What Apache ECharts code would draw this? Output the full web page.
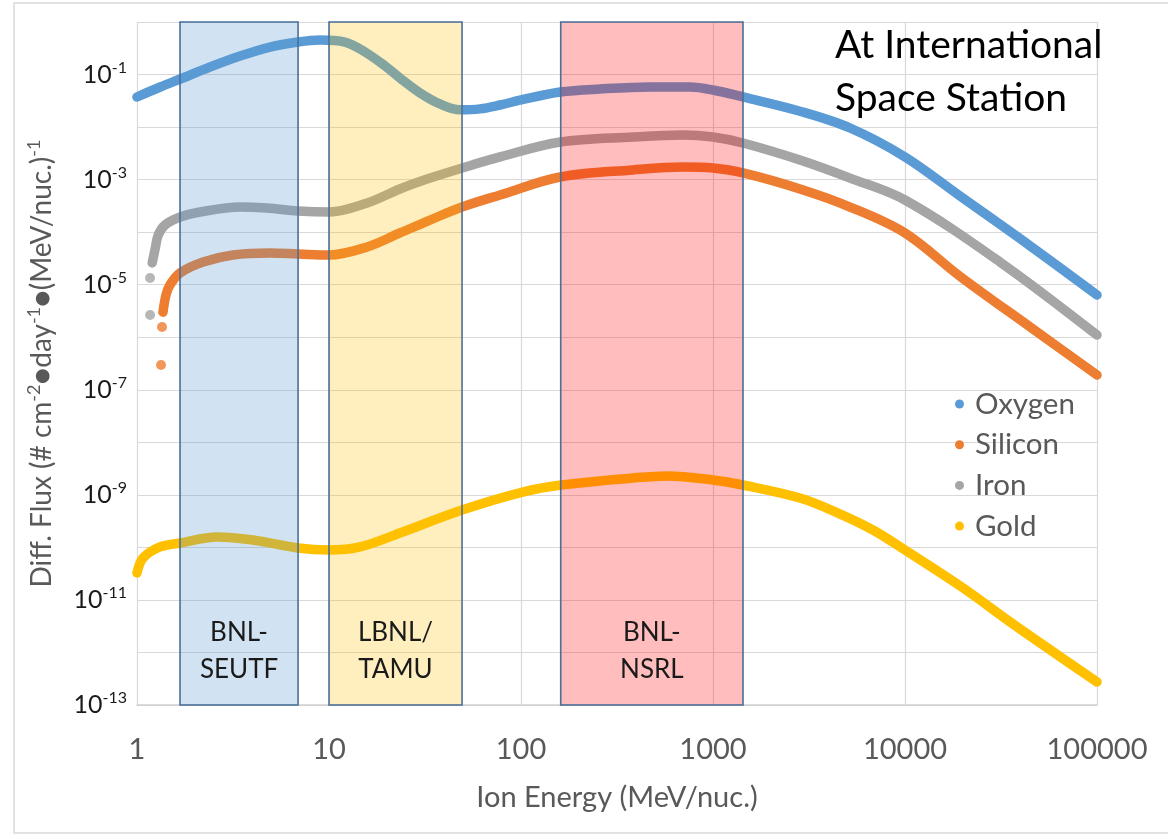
<!DOCTYPE html>
<html>
<head>
<meta charset="utf-8">
<script src="https://cdn.jsdelivr.net/npm/echarts@6/dist/echarts.min.js"></script>
<style>
html,body{margin:0;padding:0;background:#fff;}
#chart{width:1168px;height:835px;}
</style>
</head>
<body>
<div id="chart"></div>
<script>
// ---- data (energy MeV/nuc., differential flux) ----
const seriesNames = ['Oxygen', 'Silicon', 'Iron', 'Gold'];
const seriesColors = ['#5b9bd5', '#ed7d31', '#a5a5a5', '#ffc000'];

const oxygen = [[1,0.0374],[1.32,0.0579],[1.68,0.0822],[2.4,0.139],[3.44,0.225],[4.93,0.334],[6.9,0.416],[8.97,0.454],[12.1,0.416],[15.4,0.269],[19.6,0.1455],[23.4,0.0859],[29.8,0.0445],[37.8,0.0275],[48.1,0.0213],[61.1,0.0222],[77.8,0.0263],[100,0.0328],[160,0.0465],[258,0.0531],[470,0.0579],[759,0.0579],[1000,0.0508],[1433,0.0374],[2838,0.02],[5174,0.0096],[10000,0.0027],[19300,4.9e-4],[44800,5.5e-5],[100000,6.37e-6]];

const silicon = [[1.366,3.0e-6],[1.416,6.4e-6],[1.485,9.9e-6],[1.675,1.67e-5],[2.21,2.7e-5],[3.16,3.67e-5],[4.93,4.0e-5],[6.9,3.84e-5],[10,3.67e-5],[15.8,5.22e-5],[23.4,9.64e-5],[33.6,1.7e-4],[49.3,3.01e-4],[77.8,5.1e-4],[160,1.12e-3],[383,1.53e-3],[698,1.74e-3],[1000,1.66e-3],[1433,1.34e-3],[2838,6.63e-4],[5174,3.01e-4],[10000,9.64e-5],[19300,1.45e-5],[44800,1.57e-6],[100000,1.91e-7]];
const siliconDots = [[1.334,2.96e-7],[1.35,1.57e-6]];

const iron = [[1.2,2.6e-5],[1.24,4.6e-5],[1.29,8.8e-5],[1.4,1.37e-4],[1.68,1.94e-4],[2.13,2.42e-4],[3.44,3.01e-4],[4.75,2.88e-4],[6.9,2.53e-4],[10,2.42e-4],[15.8,3.59e-4],[23.4,6.63e-4],[33.6,1.07e-3],[49.3,1.66e-3],[77.8,2.7e-3],[160,5.2e-3],[383,6.48e-3],[698,7.07e-3],[1000,6.48e-3],[1433,4.98e-3],[2838,2.36e-3],[5174,1.07e-3],[10000,4.09e-4],[31250,2.7e-5],[100000,1.1e-6]];
const ironDots = [[1.17,2.65e-6],[1.17,1.34e-5]];

const gold = [[1,3.26e-11],[1.075,6.28e-11],[1.318,1.02e-10],[1.675,1.21e-10],[2.61,1.58e-10],[4.02,1.38e-10],[6.9,9.74e-11],[10,8.92e-11],[14.5,1.02e-10],[23.4,1.88e-10],[49.3,5.15e-10],[102,1.13e-9],[162,1.54e-9],[383,2.09e-9],[576,2.29e-9],[1000,1.92e-9],[1433,1.54e-9],[2838,8.7e-10],[4477,4.5e-10],[6810,2.14e-10],[10000,8.9e-11],[20050,1.69e-11],[36500,3.48e-12],[100000,2.74e-13]];

// facility energy ranges [from, to]
const facilityNames = ['BNL-\nSEUTF', 'LBNL/\nTAMU', 'BNL-\nNSRL'];
const facilityRanges = [[1.675, 6.9], [10, 49.3], [161, 1433]];
const facilityFills = ['rgba(91,155,213,0.28)', 'rgba(255,192,0,0.25)', 'rgba(255,0,0,0.26)'];

const xTicks = [1, 10, 100, 1000, 10000, 100000];
const yMin = 1e-13, yMax = 1;

const FONT = 'Lato';

const chart = echarts.init(document.getElementById('chart'), null, {renderer: 'canvas'});

function lineSeries(name, data, color) {
  return {
    name: name, type: 'line', data: data, smooth: 0.35, showSymbol: false, symbol: 'circle',
    z: 2, color: color,
    lineStyle: {width: 9.5, color: color, cap: 'round', join: 'round'},
    emphasis: {disabled: true}, animation: false
  };
}
function dotSeries(name, data, color) {
  return {
    name: name, type: 'scatter', data: data, symbol: 'circle', symbolSize: 10, z: 2,
    itemStyle: {color: color}, emphasis: {disabled: true}, animation: false
  };
}

const option = {
  backgroundColor: '#fff',
  animation: false,
  grid: {left: 137, right: 71, top: 22, bottom: 130, containLabel: false},
  xAxis: {
    type: 'log', logBase: 10, min: xTicks[0], max: xTicks[xTicks.length - 1], interval: 1,
    name: 'Ion Energy (MeV/nuc.)', nameLocation: 'middle', nameGap: 78,
    nameTextStyle: {fontFamily: FONT, fontSize: 29, color: '#595959'},
    axisLine: {show: true, lineStyle: {color: '#d0d0d0', width: 1.5}},
    axisTick: {show: false},
    splitLine: {show: true, lineStyle: {color: '#d9d9d9', width: 1.2}},
    axisLabel: {fontFamily: FONT, fontSize: 29, color: '#595959', margin: 30,
      formatter: v => String(Math.round(v))}
  },
  yAxis: {
    type: 'log', logBase: 10, min: yMin, max: yMax, interval: 1,
    name: 'Diff. Flux (# cm{s|-2}●day{s|-1}●(MeV/nuc.){s|-1}',
    nameLocation: 'middle', nameGap: 78, nameRotate: 90,
    nameTextStyle: {fontFamily: FONT, fontSize: 28, color: '#595959', lineHeight: 34,
      rich: {s: {fontFamily: FONT, fontSize: 18, color: '#595959', lineHeight: 16, verticalAlign: 'top'}}},
    axisLine: {show: false}, axisTick: {show: false},
    splitLine: {show: true, lineStyle: {color: '#d9d9d9', width: 1.2}},
    axisLabel: {
      margin: 10,
      formatter: function (v) {
        const e = Math.round(Math.log10(v));
        if (e % 2 === 0) return '';
        return '{b|10}{s|' + e + '}';
      },
      rich: {
        b: {fontFamily: FONT, fontSize: 25, color: '#1a1a1a', lineHeight: 30},
        s: {fontFamily: FONT, fontSize: 16, color: '#1a1a1a', lineHeight: 16, verticalAlign: 'top'}
      }
    }
  },
  legend: {
    data: seriesNames.map(n => ({name: n, icon: 'circle'})),
    orient: 'vertical', left: 950, top: 383, itemWidth: 9, itemHeight: 9, itemGap: 8.7,
    textStyle: {fontFamily: FONT, fontSize: 29.5, color: '#595959', padding: [0, 0, 0, 6], lineHeight: 32},
    selectedMode: false
  },
  graphic: [
    {type: 'rect', shape: {x: 14, y: 3, width: 1200, height: 830}, silent: true, z: -10,
      style: {fill: 'none', stroke: '#d9d9d9', lineWidth: 1.5}},
    {type: 'text', left: 835, top: 19, z: 20, silent: true,
      style: {text: 'At International\nSpace Station', fontFamily: FONT, fontSize: 39, lineHeight: 53, fill: '#000'}}
  ],
  series: [
    lineSeries(seriesNames[0], oxygen, seriesColors[0]),
    lineSeries(seriesNames[1], silicon, seriesColors[1]),
    dotSeries(seriesNames[1], siliconDots, seriesColors[1]),
    lineSeries(seriesNames[2], iron, seriesColors[2]),
    dotSeries(seriesNames[2], ironDots, seriesColors[2]),
    lineSeries(seriesNames[3], gold, seriesColors[3]),
    {
      type: 'custom', name: 'facilities', z: 5, clip: false, silent: true,
      data: facilityRanges.map(r => [r[0], r[1], yMin, yMax]),
      encode: {x: [0, 1], y: [2, 3]},
      renderItem: function (params, api) {
        const p0 = api.coord([api.value(0), api.value(3)]);
        const p1 = api.coord([api.value(1), api.value(2)]);
        const i = params.dataIndex;
        return {
          type: 'group',
          children: [
            {type: 'rect', shape: {x: p0[0], y: p0[1], width: p1[0] - p0[0], height: p1[1] - p0[1]},
              style: {fill: facilityFills[i], stroke: '#4a6f99', lineWidth: 1.6}},
            {type: 'text', x: (p0[0] + p1[0]) / 2, y: p1[1] - 54,
              style: {text: facilityNames[i], fontFamily: FONT, fontSize: 26, lineHeight: 37,
                fill: '#1a1a1a', align: 'center', verticalAlign: 'middle'}}
          ]
        };
      }
    }
  ]
};
chart.setOption(option);
</script>
</body>
</html>
